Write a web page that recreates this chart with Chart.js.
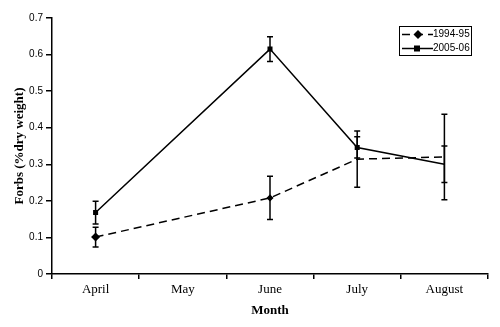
<!DOCTYPE html>
<html>
<head>
<meta charset="utf-8">
<script src="https://cdn.jsdelivr.net/npm/chart.js@4"></script>
<style>
  html, body { margin: 0; padding: 0; background: #fff; }
  #wrap { width: 500px; height: 327px; }
</style>
</head>
<body>
<div id="wrap"><canvas id="forbsChart" width="500" height="327"></canvas></div>
<script>
// Data
const months = ['April', 'May', 'June', 'July', 'August'];
const forbs9495 = [0.101, null, 0.208, 0.314, 0.32];
const err9495 = [0.027, null, 0.059, 0.077, 0.117];
const forbs0506 = [0.168, null, 0.615, 0.346, 0.30];
const err0506 = [0.031, null, 0.034, 0.029, 0.05];
const yTicks = [0, 0.1, 0.2, 0.3, 0.4, 0.5, 0.6, 0.7];
const seriesNames = ['1994-95', '2005-06'];

const errors = [err9495, err0506];

// Draw vertical error bars with caps
const errorBars = {
    id: 'errorBars',
    afterDatasetsDraw(chart) {
        const ctx = chart.ctx;
        const x = chart.scales.x;
        const y = chart.scales.y;
        ctx.save();
        ctx.strokeStyle = '#000';
        ctx.lineWidth = 1.5;
        chart.data.datasets.forEach((ds, di) => {
            ds.data.forEach((v, i) => {
                const e = errors[di][i];
                if (v === null || e === null) return;
                const px = x.getPixelForValue(i);
                const top = y.getPixelForValue(v + e);
                const bot = y.getPixelForValue(v - e);
                ctx.beginPath();
                ctx.moveTo(px, top);
                ctx.lineTo(px, bot);
                ctx.moveTo(px - 3, top);
                ctx.lineTo(px + 3, top);
                ctx.moveTo(px - 3, bot);
                ctx.lineTo(px + 3, bot);
                ctx.stroke();
            });
        });
        ctx.restore();
    }
};

// Boxed legend in the top right corner
const boxLegend = {
    id: 'boxLegend',
    afterDraw(chart) {
        const ctx = chart.ctx;
        const area = chart.chartArea;
        const left = area.right - 89;
        const top = area.top + 8;
        ctx.save();
        ctx.fillStyle = '#fff';
        ctx.fillRect(left, top, 72, 29);
        ctx.strokeStyle = '#000';
        ctx.lineWidth = 1;
        ctx.strokeRect(left + 0.5, top + 0.5, 72, 29);

        ctx.lineWidth = 1.5;
        // row 1: dashed + diamond
        let ry = top + 8.5;
        ctx.setLineDash([8, 5]);
        ctx.beginPath();
        ctx.moveTo(left + 3, ry);
        ctx.lineTo(left + 34, ry);
        ctx.stroke();
        ctx.setLineDash([]);
        ctx.fillStyle = '#000';
        ctx.beginPath();
        ctx.moveTo(left + 19, ry - 4.5);
        ctx.lineTo(left + 23.5, ry);
        ctx.lineTo(left + 19, ry + 4.5);
        ctx.lineTo(left + 14.5, ry);
        ctx.closePath();
        ctx.fill();
        // row 2: solid + square
        ry = top + 22.5;
        ctx.beginPath();
        ctx.moveTo(left + 3, ry);
        ctx.lineTo(left + 34, ry);
        ctx.stroke();
        ctx.fillRect(left + 15, ry - 3, 6, 6);

        ctx.font = '10px "Liberation Sans", Arial, sans-serif';
        ctx.textBaseline = 'middle';
        ctx.fillText(seriesNames[0], left + 34, top + 8.5);
        ctx.fillText(seriesNames[1], left + 34, top + 22.5);
        ctx.restore();
    }
};

const ctx = document.getElementById('forbsChart').getContext('2d');

const forbsChart = new Chart(ctx, {
    type: 'line',
    data: {
        labels: months,
        datasets: [
            {
                label: seriesNames[0],
                data: forbs9495,
                borderColor: '#000',
                backgroundColor: '#000',
                borderWidth: 1.5,
                borderDash: [8, 5],
                pointStyle: 'rectRot',
                // the original only marks April and June for this series
                pointRadius: (c) => (c.dataIndex === 0 ? 3.5 : c.dataIndex === 2 ? 2.5 : 0),
                spanGaps: true,
                tension: 0,
            },
            {
                label: seriesNames[1],
                data: forbs0506,
                borderColor: '#000',
                backgroundColor: '#000',
                borderWidth: 1.5,
                pointStyle: 'rect',
                pointRadius: (c) => (c.dataIndex === 4 ? 0 : 2.5),
                spanGaps: true,
                tension: 0,
            },
        ],
    },
    options: {
        responsive: false,
        animation: false,
        layout: {
            padding: { top: 18, right: 12, left: 0, bottom: 0 },
        },
        plugins: {
            legend: { display: false },
            tooltip: { enabled: false },
        },
        scales: {
            x: {
                offset: true,
                grid: {
                    offset: true,
                    drawOnChartArea: false,
                    tickLength: 5,
                    color: '#000',
                    lineWidth: 1.5,
                },
                border: { color: '#000', width: 1.5 },
                ticks: {
                    color: '#000',
                    padding: 3,
                    font: { family: '"Liberation Serif", "Times New Roman", serif', size: 13 },
                },
                title: {
                    display: true,
                    text: 'Month',
                    color: '#000',
                    padding: { top: 2, bottom: 9 },
                    font: { family: '"Liberation Serif", "Times New Roman", serif', size: 13, weight: 'bold' },
                },
                afterFit: (scale) => { scale.height = 53; },
            },
            y: {
                min: 0,
                max: 0.7,
                afterBuildTicks: (scale) => {
                    scale.ticks = yTicks.map((v) => ({ value: v }));
                },
                grid: {
                    drawOnChartArea: false,
                    tickLength: 6,
                    color: '#000',
                    lineWidth: 1.5,
                },
                border: { color: '#000', width: 1.5 },
                ticks: {
                    color: '#000',
                    padding: 3,
                    font: { family: '"Liberation Sans", Arial, sans-serif', size: 10 },
                    callback: (v) => String(v),
                },
                title: {
                    display: true,
                    text: 'Forbs (%dry weight)',
                    color: '#000',
                    padding: { top: 12, bottom: 2 },
                    font: { family: '"Liberation Serif", "Times New Roman", serif', size: 13, weight: 'bold' },
                },
                afterFit: (scale) => { scale.width = 52; },
            },
        },
    },
    plugins: [errorBars, boxLegend],
});
</script>
</body>
</html>
